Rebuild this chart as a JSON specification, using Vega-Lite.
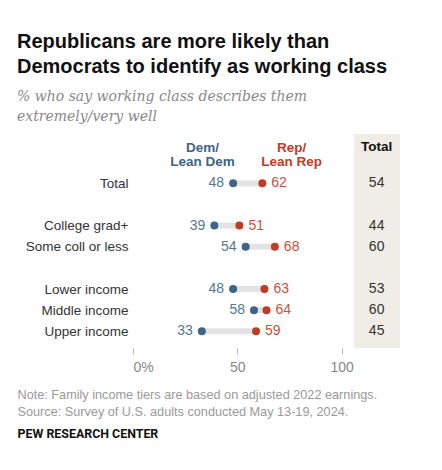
{
  "$schema": "https://vega.github.io/schema/vega-lite/v6.json",
  "width": 267,
  "height": 214,
  "autosize": "none",
  "padding": {"left": 133, "top": 134, "right": 42, "bottom": 122},
  "background": "white",
  "title": {
    "text": ["Republicans are more likely than", "Democrats to identify as working class"],
    "subtitle": ["% who say working class describes them", "extremely/very well"],
    "anchor": "start", "frame": "group", "dx": -116, "offset": 10,
    "font": "Liberation Sans", "fontSize": 20, "fontWeight": "bold", "color": "#111", "lineHeight": 25,
    "subtitleFont": "DejaVu Serif", "subtitleFontStyle": "italic", "subtitleFontSize": 14,
    "subtitleColor": "#888", "subtitleLineHeight": 20, "subtitlePadding": 13
  },
  "config": {
    "view": {"stroke": null},
    "font": "Liberation Sans",
    "axis": {"grid": false, "domain": false, "labelFont": "Liberation Sans"}
  },
  "data": {
    "values": [
      {"group": "Total", "dem": 48, "rep": 62, "total": 54},
      {"group": "College grad+", "dem": 39, "rep": 51, "total": 44},
      {"group": "Some coll or less", "dem": 54, "rep": 68, "total": 60},
      {"group": "Lower income", "dem": 48, "rep": 63, "total": 53},
      {"group": "Middle income", "dem": 58, "rep": 64, "total": 60},
      {"group": "Upper income", "dem": 33, "rep": 59, "total": 45}
    ]
  },
  "layer": [
    {
      "data": {"values": [{}]},
      "mark": {"type": "rect", "color": "#efede6"},
      "encoding": {
        "x": {"datum": 106, "type": "quantitative", "scale": {"domain": [0, 128], "nice": false, "zero": false}},
        "x2": {"datum": 128}
      }
    },
    {
      "mark": {"type": "rule", "color": "#e3e3e3", "strokeWidth": 6},
      "encoding": {
        "x": {"field": "dem", "type": "quantitative", "scale": {"domain": [0, 128], "nice": false, "zero": false},
          "axis": {
            "values": [0, 50, 100], "labelExpr": "datum.value == 0 ? '0%' : datum.label",
            "tickColor": "#bbb", "tickSize": 6, "labelColor": "#888", "labelFontSize": 14, "labelPadding": 6,
            "title": ["Note: Family income tiers are based on adjusted 2022 earnings.", "Source: Survey of U.S. adults conducted May 13-19, 2024."],
            "titleColor": "#999", "titleFontSize": 12.7, "titleFontWeight": "normal", "titleAlign": "left",
            "titleAnchor": "start", "titleX": -116, "titleY": 40, "titleBaseline": "top", "titleLineHeight": 17
          }},
        "x2": {"field": "rep"},
        "y": {"field": "group", "type": "nominal",
          "scale": {"type": "point", "domain": ["hdr", "Total", "g1", "College grad+", "Some coll or less", "g2", "Lower income", "Middle income", "Upper income"], "range": [28.2, 197.3], "padding": 0},
          "axis": {
            "ticks": false, "labelFontSize": 13.5, "labelColor": "#333", "labelPadding": 5,
            "labelExpr": "indexof(['hdr','g1','g2'], datum.value) >= 0 ? '' : datum.label",
            "title": "PEW RESEARCH CENTER", "titleAngle": 0, "titleAlign": "left", "titleBaseline": "middle",
            "titleX": -116, "titleY": 299, "titleFont": "Roboto", "titleFontSize": 12.4, "titleFontWeight": "bold", "titleColor": "#111"
          }}
      }
    },
    {
      "mark": {"type": "circle", "size": 64, "opacity": 1, "color": "#3f6586"},
      "encoding": {
        "x": {"field": "dem", "type": "quantitative", "scale": {"domain": [0, 128], "nice": false, "zero": false}},
        "y": {"field": "group", "type": "nominal"}
      }
    },
    {
      "mark": {"type": "circle", "size": 64, "opacity": 1, "color": "#c23b25"},
      "encoding": {
        "x": {"field": "rep", "type": "quantitative", "scale": {"domain": [0, 128], "nice": false, "zero": false}},
        "y": {"field": "group", "type": "nominal"}
      }
    },
    {
      "mark": {"type": "text", "align": "right", "dx": -9, "fontSize": 14, "color": "#56778f"},
      "encoding": {
        "x": {"field": "dem", "type": "quantitative"},
        "y": {"field": "group", "type": "nominal"},
        "text": {"field": "dem"}
      }
    },
    {
      "mark": {"type": "text", "align": "left", "dx": 9, "fontSize": 14, "color": "#c8503b"},
      "encoding": {
        "x": {"field": "rep", "type": "quantitative"},
        "y": {"field": "group", "type": "nominal"},
        "text": {"field": "rep"}
      }
    },
    {
      "mark": {"type": "text", "align": "center", "fontSize": 14, "color": "#333"},
      "encoding": {
        "x": {"datum": 116.8, "type": "quantitative"},
        "y": {"field": "group", "type": "nominal"},
        "text": {"field": "total"}
      }
    },
    {
      "data": {"values": [{}]},
      "mark": {"type": "text", "text": ["Dem/", "Lean Dem"], "align": "center", "baseline": "middle", "dy": -14.3, "lineHeight": 14, "fontSize": 13.5, "fontWeight": "bold", "color": "#3f6586"},
      "encoding": {
        "x": {"datum": 33.3, "type": "quantitative"},
        "y": {"datum": "hdr", "type": "nominal"}
      }
    },
    {
      "data": {"values": [{}]},
      "mark": {"type": "text", "text": ["Rep/", "Lean Rep"], "align": "center", "baseline": "middle", "dy": -14.3, "lineHeight": 14, "fontSize": 13.5, "fontWeight": "bold", "color": "#c23b25"},
      "encoding": {
        "x": {"datum": 76, "type": "quantitative"},
        "y": {"datum": "hdr", "type": "nominal"}
      }
    },
    {
      "data": {"values": [{}]},
      "mark": {"type": "text", "text": "Total", "align": "center", "baseline": "middle", "dy": -15, "fontSize": 13.5, "fontWeight": "bold", "color": "#111"},
      "encoding": {
        "x": {"datum": 116.8, "type": "quantitative"},
        "y": {"datum": "hdr", "type": "nominal"}
      }
    }
  ]
}
